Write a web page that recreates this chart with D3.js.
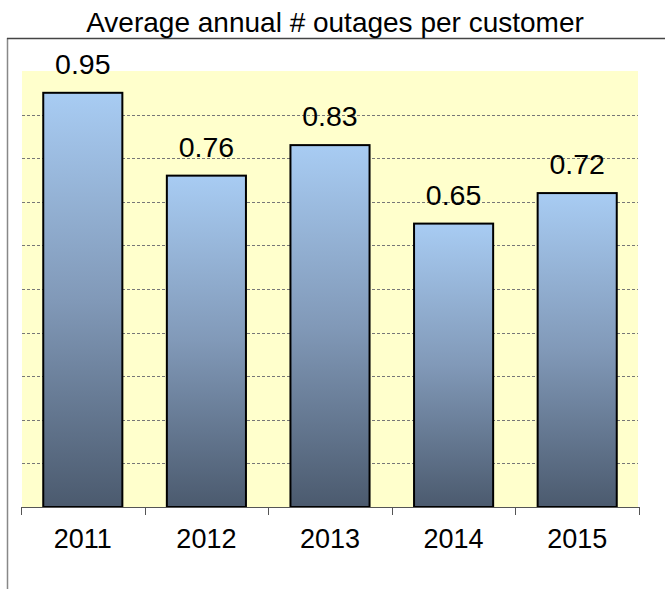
<!doctype html>
<html>
<head>
<meta charset="utf-8">
<title>Average annual # outages per customer</title>
<script src="https://cdnjs.cloudflare.com/ajax/libs/d3/7.8.5/d3.min.js"></script>
<style>
  body { margin: 0; background: #fff; }
  text { font-family: "Liberation Sans", Arial, sans-serif; fill: #000; }
</style>
</head>
<body>
<div id="chart"></div>
<script>
// data
const years = ["2011", "2012", "2013", "2014", "2015"];
const outages = [0.95, 0.76, 0.83, 0.65, 0.72];
const gridTicks = [0.1, 0.2, 0.3, 0.4, 0.5, 0.6, 0.7, 0.8, 0.9];

const W = 665, H = 589;
const plot = { left: 21, right: 639, top: 71, bottom: 507 };

const svg = d3.select('#chart').append('svg')
  .attr('width', W)
  .attr('height', H);

// gradient for bars
const grad = svg.append('defs').append('linearGradient')
  .attr('id', 'barGrad')
  .attr('x1', 0).attr('y1', 0).attr('x2', 0).attr('y2', 1);
grad.append('stop').attr('offset', '0%').attr('stop-color', '#a8ccf3');
grad.append('stop').attr('offset', '50%').attr('stop-color', '#8199b8');
grad.append('stop').attr('offset', '100%').attr('stop-color', '#4b5a6e');

// outer frame (top + left edges visible)
svg.append('line')
  .attr('x1', 7.5).attr('x2', 7.5).attr('y1', 38).attr('y2', H)
  .attr('stroke', '#888').attr('stroke-width', 1.5);
svg.append('line')
  .attr('x1', 7).attr('x2', W).attr('y1', 38.5).attr('y2', 38.5)
  .attr('stroke', '#444').attr('stroke-width', 1.5);

svg.append('text')
  .attr('x', 335)
  .attr('y', 32)
  .attr('text-anchor', 'middle')
  .style('font-size', '28px')
  .text('Average annual # outages per customer');

const x = d3.scaleBand()
  .domain(years)
  .range([plot.left, plot.right])
  .paddingInner(0.36)
  .paddingOuter(0.18);

const y = d3.scaleLinear()
  .domain([0, 1])
  .range([plot.bottom, plot.top]);

// plot area background
svg.append('rect')
  .attr('x', plot.left + 1)
  .attr('y', y(1))
  .attr('width', plot.right - plot.left - 2)
  .attr('height', y(0) - y(1))
  .attr('fill', '#ffffcc');

// gridlines
svg.append('g')
  .selectAll('line')
  .data(gridTicks)
  .join('line')
  .attr('x1', plot.left + 1)
  .attr('x2', plot.right - 1)
  .attr('y1', d => Math.round(y(d)) + 0.5)
  .attr('y2', d => Math.round(y(d)) + 0.5)
  .attr('stroke', '#777')
  .attr('stroke-width', 1)
  .attr('stroke-dasharray', '3,2');

// bars
svg.append('g')
  .selectAll('rect')
  .data(outages)
  .join('rect')
  .attr('x', (d, i) => x(years[i]))
  .attr('y', d => y(d))
  .attr('width', x.bandwidth())
  .attr('height', d => y(0) - y(d))
  .attr('fill', 'url(#barGrad)')
  .attr('stroke', '#000')
  .attr('stroke-width', 2);

// value labels
svg.append('g')
  .selectAll('text')
  .data(outages)
  .join('text')
  .attr('x', (d, i) => x(years[i]) + x.bandwidth() / 2)
  .attr('y', d => y(d) - 19)
  .attr('text-anchor', 'middle')
  .style('font-size', '28.5px')
  .text(d => d.toFixed(2));

// x axis
const xAxis = d3.axisBottom(x).tickSize(0).tickPadding(0);
const gx = svg.append('g')
  .attr('transform', `translate(0,${plot.bottom})`);
gx.append('line')
  .attr('x1', plot.left).attr('x2', plot.right)
  .attr('y1', 0.5).attr('y2', 0.5)
  .attr('stroke', '#555');
// category boundary ticks
const bounds = d3.range(years.length + 1).map(i => plot.left + i * (plot.right - plot.left) / years.length);
gx.selectAll('.bound')
  .data(bounds)
  .join('line')
  .attr('class', 'bound')
  .attr('x1', d => Math.round(d) + 0.5)
  .attr('x2', d => Math.round(d) + 0.5)
  .attr('y1', 0)
  .attr('y2', 8)
  .attr('stroke', '#555');
gx.append('g').call(xAxis)
  .call(g => g.select('.domain').remove())
  .call(g => g.selectAll('text')
    .attr('y', 41)
    .attr('dy', 0)
    .style('font-size', '27px')
    .style('font-family', '"Liberation Sans", Arial, sans-serif')
    .attr('fill', '#000'));
</script>
</body>
</html>
